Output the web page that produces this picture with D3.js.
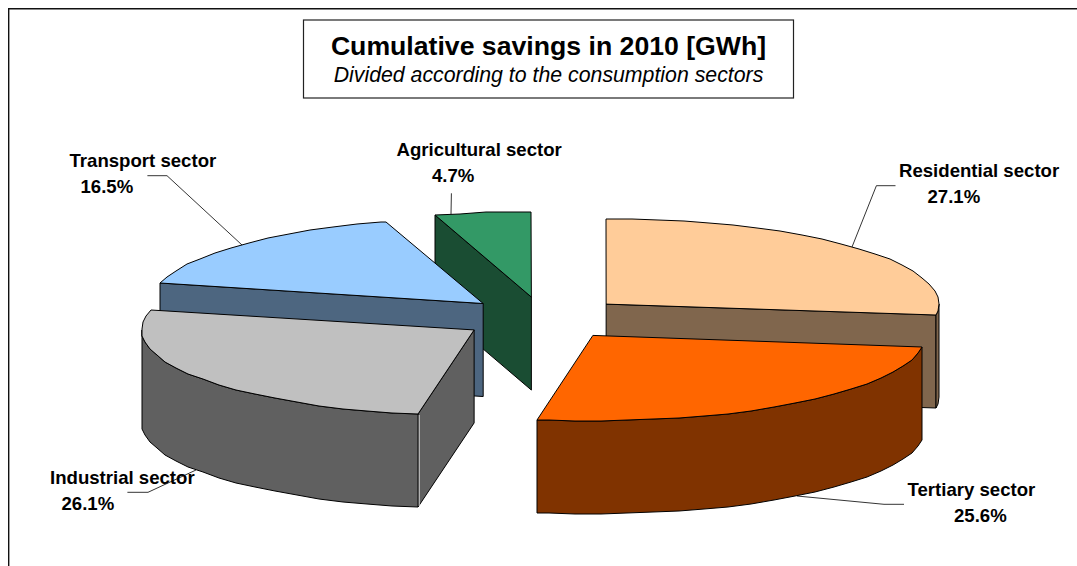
<!DOCTYPE html>
<html>
<head>
<meta charset="utf-8">
<script src="https://cdnjs.cloudflare.com/ajax/libs/d3/7.8.5/d3.min.js"></script>
<style>
  html, body { margin: 0; padding: 0; background: #fff; }
  svg { display: block; }
  text { font-family: "Liberation Sans", Arial, sans-serif; fill: #000; }
</style>
</head>
<body>
<svg id="chart" width="1077" height="566"></svg>
<script>
// Sector shares of the cumulative savings, clockwise from 12 o'clock.
const sectors = ["Residential sector", "Tertiary sector", "Industrial sector", "Transport sector", "Agricultural sector"];
const shares = [27.1, 25.6, 26.1, 16.5, 4.7];
const topColors = ["#FFCC99", "#FF6600", "#C0C0C0", "#99CCFF", "#339966"];

const titleText = "Cumulative savings in 2010 [GWh]";
const subtitleText = "Divided according to the consumption sectors";

// Projection of the tilted pie.
const center = [543.6, 318.2];
const radiusX = 332.5;
const radiusY = 85.5;
const depth = 93;
const explode = 0.25;
const arcStep = 4.5 * Math.PI / 180;

// Label placement, in sector order: name x, value x, name baseline, value baseline.
const nameX = [899, 907.5, 50, 69.5, 396.5];
const valueX = [927.5, 954, 61.5, 80.5, 432];
const nameY = [176.5, 496, 484, 167, 156];
const valueY = [203, 522, 510, 193, 182];
// Leader: free end and elbow, plus where on the slice's rim it lands (0..1 of the sweep).
const leaderStart = [[895.5, 185.7], [904, 504.3], [127.4, 492.3], [147.4, 175.7], [451.4, 193.3]];
const leaderElbow = [[876.4, 185.7], [884, 504.3], [148, 492.3], [167, 175.7], [451.4, 193.3]];
const leaderRim = [0.49, 0.484, 0.5, 0.5, 0.17];

const svg = d3.select("#chart");
const line = d3.line();

const halve = c => { const k = d3.rgb(c); return d3.rgb(k.r / 2, k.g / 2, k.b / 2).formatHex(); };

const slices = d3.pie().sort(null)(shares).map((s, i) => {
  const mid = (s.startAngle + s.endAngle) / 2;
  return {
    ...s, i, mid,
    ox: explode * radiusX * Math.sin(mid),
    oy: -explode * radiusY * Math.cos(mid)
  };
});

const rim = (s, a, drop = 0) => [
  Math.round(center[0] + s.ox + radiusX * Math.sin(a)),
  Math.round(center[1] + s.oy - radiusY * Math.cos(a) + drop)
];
const apex = (s, drop = 0) => [center[0] + s.ox, center[1] + s.oy + drop];

// Rim vertices are sampled coarsely and snapped to whole pixels, giving the faceted edge.
const rimPoints = (s, a0, a1, drop = 0) => {
  const pts = [];
  for (let a = a0; a < a1 - 1e-6; a += arcStep) pts.push(rim(s, a, drop));
  pts.push(rim(s, a1, drop));
  return pts;
};

const face = (g, pts, fill) => g.append("path")
  .attr("d", line(pts) + "Z")
  .attr("fill", fill)
  .attr("stroke", "#000")
  .attr("stroke-width", 1)
  .attr("stroke-linejoin", "round");

const wall = (g, s, a, fill) => face(g, [
  apex(s), rim(s, a), rim(s, a, depth), apex(s, depth)
], fill);

// Paint from the back of the scene to the front.
const paintOrder = [4, 0, 3, 2, 1];
const pie = svg.append("g").attr("class", "pie");
paintOrder.forEach(k => {
  const s = slices[k];
  const g = pie.append("g").attr("class", "slice");
  const side = halve(topColors[k]);
  // A cut face shows only when the slice's top lies above it on screen.
  if (Math.sin(s.startAngle) < -1e-6) wall(g, s, s.startAngle, side);
  if (Math.sin(s.endAngle) > 1e-6) wall(g, s, s.endAngle, side);
  // Only the front half of the outer rim can be seen.
  const a0 = Math.max(s.startAngle, Math.PI / 2);
  const a1 = Math.min(s.endAngle, Math.PI * 1.5);
  if (a1 > a0) {
    const upper = rimPoints(s, a0, a1);
    const lower = rimPoints(s, a0, a1, depth).reverse();
    face(g, upper.concat(lower), side);
    // Light seam where the rim meets a cut face on the near side.
    if (s.startAngle > Math.PI / 2 && Math.sin(s.startAngle) < 0) {
      const [x0, y0] = rim(s, s.startAngle);
      const [x1, y1] = rim(s, s.startAngle, depth);
      g.append("path").attr("d", line([[x0 + 1.2, y0 + 1], [x1 + 1.2, y1 - 1]]))
        .attr("stroke", "#d8d8d8").attr("stroke-width", 1).attr("fill", "none");
    }
  }
  face(g, [apex(s), ...rimPoints(s, s.startAngle, s.endAngle)], topColors[k]);
});

// Leader lines from each label to its slice.
const leaders = svg.append("g").attr("class", "leaders");
slices.forEach(s => {
  const a = s.startAngle + (s.endAngle - s.startAngle) * leaderRim[s.i];
  const drop = (a > Math.PI / 2 && a < Math.PI * 1.5) ? depth : 0;
  leaders.append("path")
    .attr("d", line([leaderStart[s.i], leaderElbow[s.i], rim(s, a, drop)]))
    .attr("fill", "none")
    .attr("stroke", "#000")
    .attr("stroke-width", 0.8);
});

// Sector names and percentages.
const labels = svg.append("g").attr("class", "labels")
  .attr("font-size", 18.6).attr("font-weight", "bold");
slices.forEach(s => {
  labels.append("text").attr("x", nameX[s.i]).attr("y", nameY[s.i]).text(sectors[s.i]);
  labels.append("text").attr("x", valueX[s.i]).attr("y", valueY[s.i]).text(shares[s.i].toFixed(1) + "%");
});

// Outer frame: only the top and left edges fall inside the page.
svg.append("path")
  .attr("d", line([[8.7, 566], [8.7, 8.7], [1077, 8.7]]))
  .attr("fill", "none").attr("stroke", "#111").attr("stroke-width", 1.4);

// Title box.
svg.append("rect")
  .attr("x", 303.5).attr("y", 20).attr("width", 490).attr("height", 78)
  .attr("fill", "#fff").attr("stroke", "#222").attr("stroke-width", 1.2);
svg.append("text").attr("x", 548.5).attr("y", 55)
  .attr("text-anchor", "middle").attr("font-size", 26.65).attr("font-weight", "bold")
  .text(titleText);
svg.append("text").attr("x", 548.5).attr("y", 82)
  .attr("text-anchor", "middle").attr("font-size", 21.3).attr("font-style", "italic")
  .text(subtitleText);
</script>
</body>
</html>
